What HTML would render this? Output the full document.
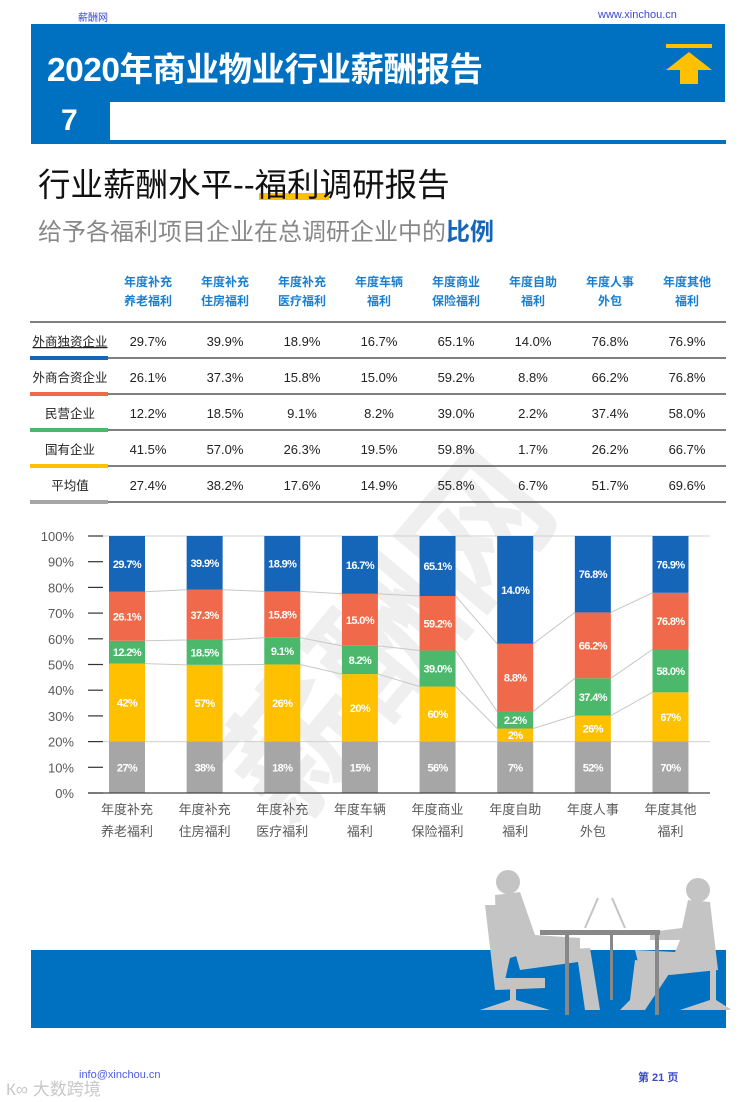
<!DOCTYPE html>
<html><head><meta charset="utf-8"><style>
*{margin:0;padding:0;box-sizing:border-box}
body{width:749px;height:1102px;position:relative;background:#fff;font-family:"Liberation Sans","Noto Sans CJK SC",sans-serif;overflow:hidden}
.abs{position:absolute}
</style></head><body>
<div class="abs" style="left:78px;top:9px;font-size:10px;color:#3a4ad0">薪酬网</div>
<div class="abs" style="left:598px;top:9px;font-size:11px;color:#3a4ad0">www.xinchou.cn</div>
<div class="abs" style="left:31px;top:24px;width:694px;height:78px;background:#0070c0"></div>
<div class="abs" style="left:47px;top:42px;font-size:33.5px;font-weight:bold;color:#fff;letter-spacing:-0.5px">2020年商业物业行业薪酬报告</div>
<svg class="abs" style="left:664px;top:44px" width="50" height="42"><rect x="2" y="0" width="46" height="4" fill="#ffc000"/><polygon points="25,8 48,26 34,26 34,40 16,40 16,26 2,26" fill="#ffc000"/></svg>
<div class="abs" style="left:31px;top:102px;width:79px;height:42px;background:#0070c0"></div>
<div class="abs" style="left:61px;top:104px;font-size:30px;font-weight:bold;color:#fff">7</div>
<div class="abs" style="left:31px;top:140px;width:695px;height:4px;background:#0070c0"></div>
<div class="abs" style="left:259px;top:193px;width:70px;height:7px;background:#ffc000"></div>
<div class="abs" style="left:38px;top:159px;font-size:32.5px;color:#111">行业薪酬水平--福利调研报告</div>
<div class="abs" style="left:38px;top:212px;font-size:24px;color:#888">给予各福利项目企业在总调研企业中的<b style="color:#1565b8">比例</b></div>

<div class="abs" style="left:170px;top:530px;font-size:140px;color:rgba(180,180,180,0.22);transform:rotate(-50deg);font-weight:bold;white-space:nowrap">薪酬网</div>

<svg class="abs" id="tbl" style="left:0;top:260px" width="749" height="250"></svg>
<svg class="abs" id="chart" style="left:0;top:520px" width="749" height="330"></svg>

<div class="abs" style="left:31px;top:950px;width:695px;height:78px;background:#0070c0"></div>
<svg class="abs" style="left:470px;top:860px" width="260" height="160">
<g fill="#c4c4c4">
<circle cx="38" cy="22" r="12"/>
<path d="M25 35 L50 32 L65 75 L110 78 L110 90 L60 92 L40 98 L35 120 L28 125 Z"/>
<path d="M45 92 L120 88 L130 150 L115 150 L108 102 L50 110 Z"/>
<path d="M15 45 L28 45 L35 118 L75 118 L75 128 L25 130 Z"/>
<path d="M40 128 L46 128 L46 140 L80 150 L10 150 L40 140 Z"/>
<circle cx="228" cy="30" r="12"/>
<path d="M218 40 L240 42 L248 110 L200 115 L170 110 L165 90 L205 92 L210 80 L180 80 L180 72 L212 68 Z"/>
<path d="M165 100 L205 105 L175 150 L150 150 L160 140 Z"/>
<path d="M240 110 L246 110 L246 140 L262 150 L210 150 L240 140 Z"/>
</g>
<rect x="70" y="70" width="120" height="5" fill="#888"/>
<rect x="95" y="75" width="4" height="80" fill="#888"/><rect x="185" y="75" width="4" height="80" fill="#888"/><rect x="140" y="75" width="3" height="65" fill="#888"/>
<line x1="115" y1="68" x2="128" y2="38" stroke="#c4c4c4" stroke-width="2"/><line x1="155" y1="68" x2="142" y2="38" stroke="#c4c4c4" stroke-width="2"/>
</svg>
<div class="abs" style="left:79px;top:1069px;font-size:11px;color:#4a5adf">info@xinchou.cn</div>
<div class="abs" style="left:638px;top:1069px;font-size:11px;color:#3a4ad0;font-weight:bold">第 21 页</div>
<div class="abs" style="left:6px;top:1075px;font-size:17px;color:#c8c8c8">К∞ 大数跨境</div>

<script>
const categories = [["年度补充","养老福利"],["年度补充","住房福利"],["年度补充","医疗福利"],["年度车辆","福利"],["年度商业","保险福利"],["年度自助","福利"],["年度人事","外包"],["年度其他","福利"]];
const rowNames = ["外商独资企业","外商合资企业","民营企业","国有企业","平均值"];
const foreignOwned = [29.7,39.9,18.9,16.7,65.1,14.0,76.8,76.9];
const jointVenture = [26.1,37.3,15.8,15.0,59.2,8.8,66.2,76.8];
const privateEnt = [12.2,18.5,9.1,8.2,39.0,2.2,37.4,58.0];
const stateOwned = [41.5,57.0,26.3,19.5,59.8,1.7,26.2,66.7];
const average = [27.4,38.2,17.6,14.9,55.8,6.7,51.7,69.6];
const yTicks = [0,10,20,30,40,50,60,70,80,90,100];
const NS="http://www.w3.org/2000/svg";
function mk(p,tag,at,txt){const e=document.createElementNS(NS,tag);for(const k in at)e.setAttribute(k,at[k]);if(txt!==undefined)e.textContent=txt;p.appendChild(e);return e;}
const rowColors=["#1565b8","#f0694a","#4cb86c","#ffc000","#a6a6a6"];
const tbl=document.getElementById('tbl');
const colX=i=>148+i*77;
categories.forEach((c,i)=>{
 const t=mk(tbl,'text',{x:colX(i),y:26,'text-anchor':'middle','font-size':12,'font-weight':'bold',fill:'#1a7fd0'},c[0]);
 
 
 const t2=mk(tbl,'text',{x:colX(i),y:45,'text-anchor':'middle','font-size':12,'font-weight':'bold',fill:'#1a7fd0'},c[1]);
 
 
});
const rows=[foreignOwned,jointVenture,privateEnt,stateOwned,average];
for(let r=0;r<=5;r++){const l=mk(tbl,'line',{x1:30,x2:726,y1:62+r*36,y2:62+r*36,stroke:'#333','stroke-width':1.3});
 
 }
rows.forEach((vals,r)=>{
 const y=86+r*36;
 const n=mk(tbl,'text',{x:70,y:y,'text-anchor':'middle','font-size':12.5,fill:'#222','text-decoration':r==0?'underline':'none'},rowNames[r]);
 
 
 const b=mk(tbl,'rect',{x:30,y:y+10,width:78,height:4,fill:rowColors[r]});
 
 
 vals.forEach((v,i)=>{const t=mk(tbl,'text',{x:colX(i),y:y,'text-anchor':'middle','font-size':13,fill:'#222'},v.toFixed(1)+'%');
  
  });
});
const ch=document.getElementById('chart');
const y0=273,yTop=16;
const yS=v=>y0-(v/100)*(y0-yTop);
const xC=i=>127+i*77.64;const bw=36;
yTicks.forEach(v=>{
 const t=mk(ch,'text',{x:74,y:yS(v)+5,'text-anchor':'end','font-size':13,fill:'#595959'},v+'%');
 
 
 const k=mk(ch,'line',{x1:88,x2:103,y1:yS(v),y2:yS(v),stroke:'#333','stroke-width':1.2});
 
 
});
[20,100].forEach(v=>{const g=mk(ch,'line',{x1:103,x2:710,y1:yS(v),y2:yS(v),stroke:'#d0d0d0','stroke-width':1});
 
 });
const bounds=categories.map((c,i)=>{
 const s=stateOwned[i]+privateEnt[i]+jointVenture[i]+foreignOwned[i];
 const a=20+80*stateOwned[i]/s, b=a+80*privateEnt[i]/s, d=b+80*jointVenture[i]/s;
 return [0,20,a,b,d,100];
});
for(let i=0;i<categories.length-1;i++){[2,3,4].forEach(k=>{const l=mk(ch,'line',{x1:xC(i)+bw/2,x2:xC(i+1)-bw/2,y1:yS(bounds[i][k]),y2:yS(bounds[i+1][k]),stroke:'#c8c8c8','stroke-width':1});
 
 });}
const segColors=["#a6a6a6","#ffc000","#4cb86c","#f0694a","#1565b8"];
categories.forEach((c,i)=>{
 const labels=[Math.round(average[i])+'%',Math.round(stateOwned[i])+'%',privateEnt[i].toFixed(1)+'%',jointVenture[i].toFixed(1)+'%',foreignOwned[i].toFixed(1)+'%'];
 for(let k=0;k<5;k++){
  const lo=bounds[i][k],hi=bounds[i][k+1];
  const r=mk(ch,'rect',{x:xC(i)-bw/2,y:yS(hi),width:bw,height:yS(lo)-yS(hi),fill:segColors[k]});
  
  
  const t=mk(ch,'text',{x:xC(i),y:(yS(lo)+yS(hi))/2+4,'text-anchor':'middle','font-size':11,'font-weight':'bold',fill:'#fff','letter-spacing':'-0.6'},labels[k]);
  
  
 }
 const a=mk(ch,'text',{x:xC(i),y:294,'text-anchor':'middle','font-size':13,fill:'#595959'},c[0]);
 
 
 const b=mk(ch,'text',{x:xC(i),y:316,'text-anchor':'middle','font-size':13,fill:'#595959'},c[1]);
 
 
});
const ax=mk(ch,'line',{x1:88,x2:710,y1:y0,y2:y0,stroke:'#444','stroke-width':1.3});


</script>
</body></html>
